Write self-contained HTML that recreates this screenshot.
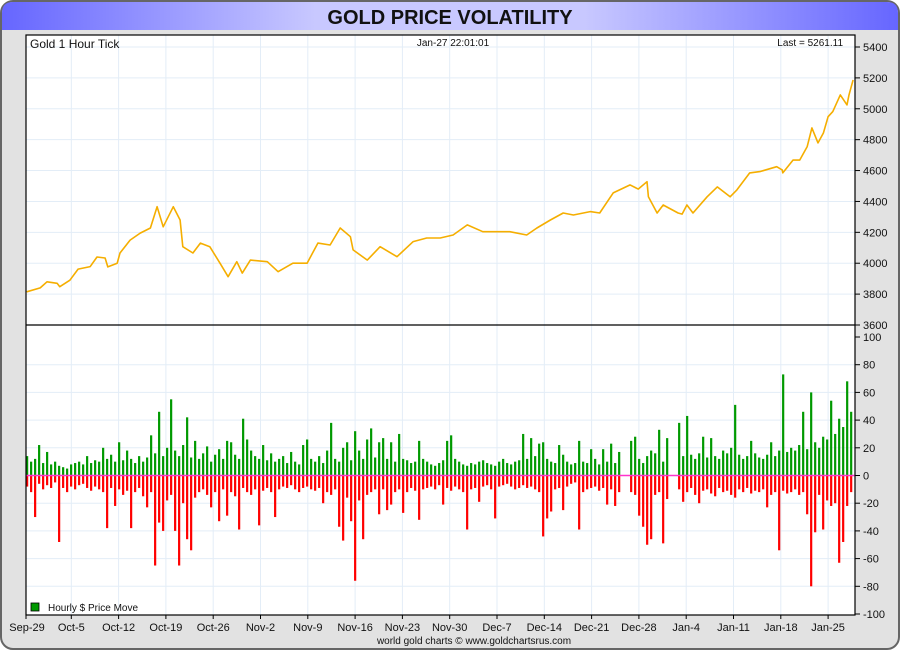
<!DOCTYPE html>
<html><head><meta charset="utf-8"><style>
html,body{margin:0;padding:0;background:#fff;}
body{width:900px;height:650px;overflow:hidden;font-family:"Liberation Sans",sans-serif;}
</style></head><body>
<svg id="chart" width="900" height="650" xmlns="http://www.w3.org/2000/svg">
<defs>
<linearGradient id="tg" x1="0" x2="1" y1="0" y2="0">
<stop offset="0" stop-color="#6666ff"/><stop offset="0.35" stop-color="#c8c8ff"/><stop offset="0.65" stop-color="#c8c8ff"/><stop offset="1" stop-color="#6666ff"/>
</linearGradient>
</defs>
<rect x="1" y="1" width="898" height="648" rx="12" fill="#e2e2e2" stroke="#666" stroke-width="2"/>
<path d="M2,30 L2,13 Q2,2 13,2 L887,2 Q898,2 898,13 L898,30 Z" fill="url(#tg)"/>
<text x="450" y="24" text-anchor="middle" font-size="20" font-weight="bold" fill="#111">GOLD PRICE VOLATILITY</text>
<rect x="26" y="35" width="829" height="580" fill="#fff"/>
<g id="grid"></g>
<g id="bars"></g>
<g id="priceg"></g>
<line x1="26" y1="325" x2="855" y2="325" stroke="#000" stroke-width="1.2"/>
<rect x="26" y="35" width="829" height="580" fill="none" stroke="#000" stroke-width="1.2"/>
<g id="axes"></g>
<text x="30" y="48" font-size="12" fill="#111">Gold 1 Hour Tick</text>
<text x="453" y="46" text-anchor="middle" font-size="10" fill="#111">Jan-27  22:01:01</text>
<text x="843" y="46" text-anchor="end" font-size="10" fill="#111">Last = 5261.11</text>
<rect x="31" y="603" width="8" height="8" fill="#009900" stroke="#000" stroke-width="0.8"/>
<text x="48" y="611" font-size="10" fill="#111">Hourly $ Price Move</text>
<text x="474" y="644" text-anchor="middle" font-size="10" fill="#111">world gold charts © www.goldchartsrus.com</text>
</svg>
<script>
const weekLabels=["Sep-29","Oct-5","Oct-12","Oct-19","Oct-26","Nov-2","Nov-9","Nov-16","Nov-23","Nov-30","Dec-7","Dec-14","Dec-21","Dec-28","Jan-4","Jan-11","Jan-18","Jan-25"];
const priceTicks=[3600,3800,4000,4200,4400,4600,4800,5000,5200,5400];
const volTicks=[-100,-80,-60,-40,-20,0,20,40,60,80,100];
const priceDays=[0.4,2.4,3.4,4.9,5.3,6.8,8.0,9.8,10.8,12.0,12.4,13.8,14.2,15.7,17.2,18.7,19.7,20.6,22.1,23.1,23.5,25.0,26.1,27.5,29.0,30.2,31.5,32.3,33.5,36.0,37.6,39.8,41.9,43.5,45.3,46.8,48.3,48.7,50.8,52.7,55.2,57.6,59.6,61.6,63.5,65.6,67.9,70.0,71.9,74.4,75.9,77.9,79.8,81.3,83.8,85.2,87.2,89.7,90.9,92.2,92.4,93.7,94.6,96.8,97.4,98.1,99.0,101.1,102.6,104.5,105.5,107.4,108.9,111.4,112.2,112.3,113.8,114.8,115.9,116.6,117.5,118.3,119.0,119.7,120.8,121.8,122.1,122.7];
const priceValues=[3815,3840,3880,3870,3848,3890,3962,3978,4040,4034,3976,4000,4066,4150,4195,4228,4366,4236,4366,4280,4107,4066,4130,4107,4000,3913,4010,3936,4020,4010,3945,4000,4000,4130,4118,4228,4172,4086,4020,4107,4042,4140,4163,4163,4183,4248,4204,4204,4204,4183,4228,4280,4325,4312,4334,4325,4455,4507,4480,4528,4430,4325,4377,4325,4318,4377,4325,4430,4494,4430,4475,4585,4593,4625,4604,4585,4668,4668,4755,4876,4779,4843,4949,4982,5090,5025,5090,5187,5265];
const barStartDay=0.3, barStepDay=0.592;
const upMoves=[14,10,12,22,9,17,8,10,7,6,5,8,9,10,8,14,9,11,10,20,12,15,10,24,11,18,12,9,14,10,13,29,16,46,14,20,55,18,14,22,42,13,25,12,16,21,10,15,19,12,25,24,15,12,41,26,18,14,12,22,11,16,10,12,14,9,17,10,8,22,26,12,10,14,9,18,38,12,10,20,24,11,32,18,12,26,34,13,24,27,12,24,10,30,12,11,9,10,25,12,10,8,7,9,11,25,29,12,10,8,7,9,8,10,11,9,8,7,10,12,9,8,10,11,30,12,27,14,23,24,12,10,9,22,15,10,8,9,25,10,9,19,12,8,19,10,23,9,17,0,0,25,28,12,9,14,18,16,33,10,27,0,0,38,14,43,15,12,16,28,13,27,14,12,18,16,20,51,15,12,14,25,16,13,12,15,24,14,18,73,17,20,18,22,46,19,60,24,20,28,26,54,30,41,35,68,46];
const downMoves=[8,12,30,6,10,7,9,5,48,9,12,8,10,7,6,9,11,8,10,12,38,9,22,10,14,11,38,12,9,15,23,12,65,34,40,18,14,40,65,20,46,54,16,12,10,14,23,12,33,10,29,12,15,39,9,12,14,10,36,11,9,12,30,10,8,9,7,10,12,9,8,10,11,9,20,12,14,10,37,47,16,33,76,18,46,14,12,10,28,10,25,21,12,10,27,12,9,11,32,10,9,8,10,7,21,9,11,8,10,12,39,10,9,19,8,7,10,31,8,7,6,8,10,9,7,9,8,10,12,44,31,26,10,9,25,8,6,5,39,12,10,9,8,11,9,21,10,22,12,0,0,12,14,29,37,50,46,14,12,49,17,0,0,10,19,12,9,14,20,11,10,13,15,9,12,11,14,16,10,12,9,13,11,12,10,23,14,12,54,11,13,12,10,14,12,28,80,41,14,39,18,22,20,63,48,22,12];

const NS="http://www.w3.org/2000/svg";
const L=26,R=855;
function xDay(d){return 24+d*47.3/7;}
function yPrice(p){return 325-(p-3600)*278/1800;}
function yVol(v){return 475.5-v*138.5/100;}
function mk(tag,attrs,parent){const e=document.createElementNS(NS,tag);for(const k in attrs)e.setAttribute(k,attrs[k]);parent.appendChild(e);return e;}
const grid=document.getElementById('grid'),axes=document.getElementById('axes'),bars=document.getElementById('bars'),pg=document.getElementById('priceg');

weekLabels.forEach((lab,i)=>{
  const x=xDay(i*7);
  if(x>L+1&&x<R){
    const g=mk('line',{x1:x,y1:35,x2:x,y2:615,stroke:'#e3edf7','stroke-width':1},grid);
    
    
  }
  const t=mk('line',{x1:Math.max(x,L),y1:615,x2:Math.max(x,L),y2:619,stroke:'#000'},axes);
  
  
  const tx=mk('text',{x:i==0?27:x,y:631,'text-anchor':'middle','font-size':11,fill:'#111'},axes);
  tx.textContent=lab;
  
  
});
priceTicks.forEach(p=>{
  const y=yPrice(p);
  if(p>3600){
    const g=mk('line',{x1:L,y1:y,x2:R,y2:y,stroke:'#e3edf7','stroke-width':1},grid);
    
    
  }
  const t=mk('line',{x1:R,y1:y,x2:R+5,y2:y,stroke:'#000'},axes);
  
  
  const tx=mk('text',{x:R+8,y:y+4,'font-size':11,fill:'#111'},axes);
  tx.textContent=p;
  
  
});
volTicks.forEach(v=>{
  const y=yVol(v);
  if(v!=0&&v>-100&&v<100){
    const g=mk('line',{x1:L,y1:y,x2:R,y2:y,stroke:'#e3edf7','stroke-width':1},grid);
    
    
  }
  const t=mk('line',{x1:R,y1:y,x2:R+5,y2:y,stroke:'#000'},axes);
  
  
  const tx=mk('text',{x:R+8,y:y+4,'font-size':11,fill:'#111'},axes);
  tx.textContent=v;
  
  
});
const y0=yVol(0);
upMoves.forEach((v,i)=>{
  const x=xDay(barStartDay+i*barStepDay);
  if(v>0){
    const b=mk('rect',{x:x,y:yVol(v),width:2.2,height:y0-yVol(v),fill:'#009900'},bars);
    
    
  }
});
downMoves.forEach((v,i)=>{
  const x=xDay(barStartDay+i*barStepDay);
  if(v>0){
    const b=mk('rect',{x:x,y:y0,width:2.2,height:yVol(-v)-y0,fill:'#ff0000'},bars);
    
    
  }
});
const zl=mk('line',{x1:L,y1:y0,x2:R,y2:y0,stroke:'#ff33cc','stroke-width':1.5},bars);


const pts=priceDays.map((d,i)=>xDay(d).toFixed(1)+','+yPrice(priceValues[i]).toFixed(1)).join(' ');
const pl=mk('polyline',{points:pts,fill:'none',stroke:'#f5ae00','stroke-width':1.6,'stroke-linejoin':'round'},pg);


</script>
</body></html>
